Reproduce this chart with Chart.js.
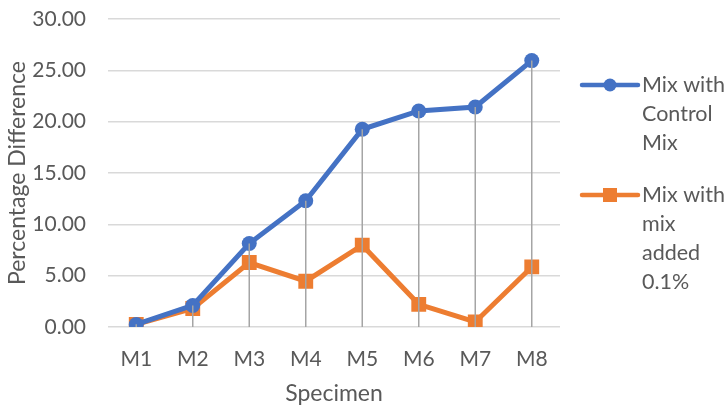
<!DOCTYPE html>
<html>
<head>
<meta charset="utf-8">
<script src="https://cdn.jsdelivr.net/npm/chart.js@4/dist/chart.umd.min.js"></script>
<style>
  html, body { margin: 0; padding: 0; background: #ffffff; }
  #wrap { width: 728px; height: 407px; position: relative; }
</style>
</head>
<body>
<div id="wrap"><canvas id="chart" width="728" height="407"></canvas></div>
<script>
// Specimens and percentage differences for each mix
const specimens = ['M1', 'M2', 'M3', 'M4', 'M5', 'M6', 'M7', 'M8'];
const controlMix = [0.25, 2.1, 8.13, 12.3, 19.26, 21.04, 21.43, 25.95];
const addedMix = [0.26, 1.8, 6.28, 4.46, 7.97, 2.21, 0.49, 5.85];
const yTicks = [0, 5, 10, 15, 20, 25, 30];

const seriesNames = [['Mix with', 'Control', 'Mix'], ['Mix with', 'mix', 'added', '0.1%']];
const BLUE = '#4472C4';
const ORANGE = '#ED7D31';
const TEXT = '#595959';
const FONT = 'Lato, "Open Sans", sans-serif';

// Vertical drop lines from the highest point of each category down to zero,
// drawn over the series
const dropLines = {
  id: 'dropLines',
  afterDatasetsDraw(chart) {
    const { ctx, scales: { x, y } } = chart;
    ctx.save();
    ctx.strokeStyle = '#A5A5A5';
    ctx.lineWidth = 1.5;
    specimens.forEach((s, i) => {
      const top = Math.max(controlMix[i], addedMix[i]);
      const px = x.getPixelForValue(i);
      ctx.beginPath();
      ctx.moveTo(px, y.getPixelForValue(top));
      ctx.lineTo(px, y.getPixelForValue(0));
      ctx.stroke();
    });
    ctx.restore();
  }
};

// Legend on the right with wrapped series names
const sideLegend = {
  id: 'sideLegend',
  afterDraw(chart) {
    const { ctx } = chart;
    const x0 = 582, x1 = 638, tx = 642, lh = 29;
    const entries = [
      { y: 85, color: BLUE, style: 'circle', lines: seriesNames[0] },
      { y: 195, color: ORANGE, style: 'rect', lines: seriesNames[1] }
    ];
    ctx.save();
    entries.forEach(e => {
      ctx.strokeStyle = e.color;
      ctx.lineWidth = 4.5;
      ctx.lineCap = 'round';
      ctx.beginPath();
      ctx.moveTo(x0, e.y);
      ctx.lineTo(x1, e.y);
      ctx.stroke();
      ctx.fillStyle = e.color;
      const cx = (x0 + x1) / 2;
      if (e.style === 'circle') {
        ctx.beginPath();
        ctx.arc(cx, e.y, 6.5, 0, Math.PI * 2);
        ctx.fill();
      } else {
        ctx.fillRect(cx - 7, e.y - 7, 14, 14);
      }
      ctx.fillStyle = TEXT;
      ctx.font = '21.5px ' + FONT;
      ctx.textBaseline = 'middle';
      ctx.textAlign = 'left';
      e.lines.forEach((t, k) => ctx.fillText(t, tx, e.y + k * lh));
    });
    ctx.restore();
  }
};

new Chart(document.getElementById('chart'), {
  type: 'line',
  data: {
    labels: specimens,
    datasets: [
      {
        label: 'Mix with Control Mix',
        data: controlMix,
        borderColor: BLUE,
        backgroundColor: BLUE,
        borderWidth: 5,
        pointStyle: 'circle',
        pointRadius: 7.5,
        pointBorderWidth: 0,
        tension: 0
      },
      {
        label: 'Mix with mix added 0.1%',
        data: addedMix,
        borderColor: ORANGE,
        backgroundColor: ORANGE,
        borderWidth: 5,
        pointStyle: 'rect',
        pointRadius: 10.5,
        pointBorderWidth: 0,
        tension: 0
      }
    ]
  },
  options: {
    responsive: false,
    animation: false,
    devicePixelRatio: 1,
    layout: { padding: { top: 19, right: 168, left: 0, bottom: 0 } },
    plugins: { legend: { display: false }, tooltip: { enabled: false } },
    scales: {
      x: {
        offset: true,
        grid: { display: false, drawTicks: false },
        border: { display: false },
        ticks: { color: TEXT, font: { family: FONT, size: 21 }, padding: 20, maxRotation: 0 },
        title: { display: true, text: 'Specimen', color: TEXT, font: { family: FONT, size: 23 }, padding: { top: 2, bottom: 0 } },
        afterFit(scale) { scale.height = 80; }
      },
      y: {
        min: 0,
        max: 30,
        afterBuildTicks(scale) { scale.ticks = yTicks.map(v => ({ value: v })); },
        grid: { color: '#D9D9D9', lineWidth: 1.5, drawTicks: true, tickLength: 20, tickColor: 'rgba(0,0,0,0)' },
        border: { display: false },
        ticks: {
          color: TEXT,
          font: { family: FONT, size: 21 },
          padding: 2,
          callback: v => Number(v).toFixed(2)
        },
        title: { display: true, text: 'Percentage Difference', color: TEXT, font: { family: FONT, size: 23 }, padding: { top: 4, bottom: 0 } },
        afterFit(scale) { scale.width = 108; }
      }
    }
  },
  plugins: [dropLines, sideLegend]
});
</script>
</body>
</html>
